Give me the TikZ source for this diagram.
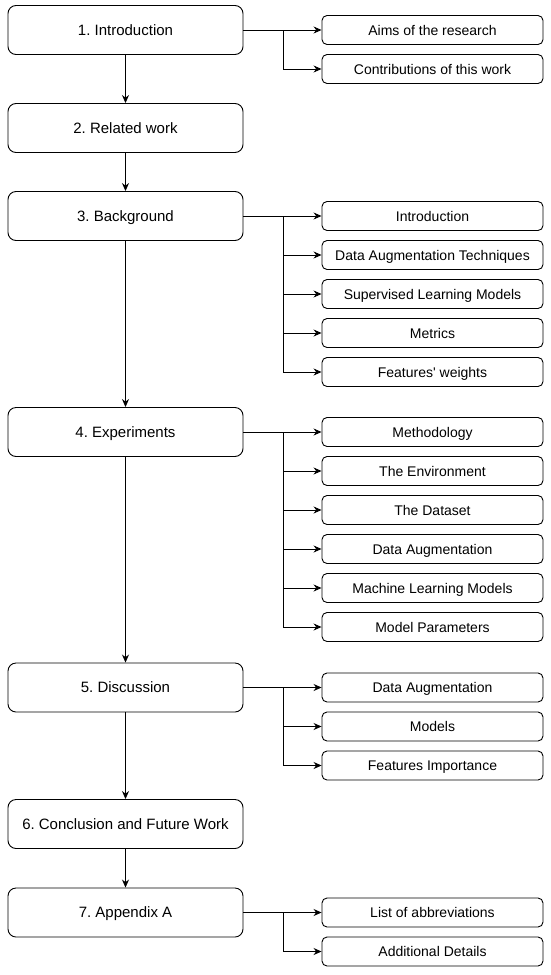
\documentclass[tikz,border=0pt]{standalone}
\usepackage{fontspec}
\setmainfont{Liberation Sans}
\usetikzlibrary{arrows.meta}
\begin{document}
\frenchspacing
\begin{tikzpicture}[x=1pt,y=-1pt,
  mainbox/.style={draw, line width=0.9pt, rounded corners=8pt, minimum width=235pt, minimum height=49pt, inner sep=0pt, text height=11pt, text depth=0.3pt, font=\fontsize{15}{18}\selectfont},
  subbox/.style={draw, line width=0.9pt, rounded corners=5pt, minimum width=221pt, minimum height=29pt, inner sep=0pt, text height=10.5pt, text depth=0.3pt, font=\fontsize{14}{17}\selectfont},
  conn/.style={line width=0.9pt, -{Stealth[length=8pt,width=7pt]}},
  link/.style={line width=0.9pt}]
\useasboundingbox (0,0) rectangle (550,975);
% main boxes
\node[mainbox] (m1) at (125.5,30) {1. Introduction};
\node[mainbox] (m2) at (125.5,128) {2. Related work};
\node[mainbox] (m3) at (125.5,216) {3. Background};
\node[mainbox] (m4) at (125.5,432) {4. Experiments};
\node[mainbox] (m5) at (125.5,687.5) {5. Discussion};
\node[mainbox] (m6) at (125.5,824) {6. Conclusion and Future Work};
\node[mainbox] (m7) at (125.5,912.5) {7. Appendix A};
\draw[conn] (m1) -- (m2);
\draw[conn] (m2) -- (m3);
\draw[conn] (m3) -- (m4);
\draw[conn] (m4) -- (m5);
\draw[conn] (m5) -- (m6);
\draw[conn] (m6) -- (m7);
% sub boxes
\node[subbox] (s11) at (432.5,30) {Aims of the research};
\node[subbox] (s12) at (432.5,69) {Contributions of this work};
\node[subbox] (s31) at (432.5,216) {Introduction};
\node[subbox] (s32) at (432.5,255) {Data Augmentation Techniques};
\node[subbox] (s33) at (432.5,294) {Supervised Learning Models};
\node[subbox] (s34) at (432.5,333) {Metrics};
\node[subbox] (s35) at (432.5,372) {Features\textquotesingle{} weights};
\node[subbox] (s41) at (432.5,432) {Methodology};
\node[subbox] (s42) at (432.5,471) {The Environment};
\node[subbox] (s43) at (432.5,510) {The Dataset};
\node[subbox] (s44) at (432.5,549) {Data Augmentation};
\node[subbox] (s45) at (432.5,588) {Machine Learning Models};
\node[subbox] (s46) at (432.5,627) {Model Parameters};
\node[subbox] (s51) at (432.5,687.5) {Data Augmentation};
\node[subbox] (s52) at (432.5,726.5) {Models};
\node[subbox] (s53) at (432.5,765.5) {Features Importance};
\node[subbox] (s71) at (432.5,912.5) {List of abbreviations};
\node[subbox] (s72) at (432.5,951.5) {Additional Details};
% branch points
\coordinate (b1) at (283,30);
\coordinate (b3) at (283,216);
\coordinate (b4) at (283,432);
\coordinate (b5) at (283,687.5);
\coordinate (b7) at (283,912.5);
% connectors
\draw[conn] (m1.east) -- (s11.west);
\draw[conn] (b1) |- (s12.west);
\draw[conn] (m3.east) -- (s31.west);
\foreach \s in {s32,s33,s34,s35} \draw[conn] (b3) |- (\s.west);
\draw[conn] (m4.east) -- (s41.west);
\foreach \s in {s42,s43,s44,s45,s46} \draw[conn] (b4) |- (\s.west);
\draw[conn] (m5.east) -- (s51.west);
\foreach \s in {s52,s53} \draw[conn] (b5) |- (\s.west);
\draw[conn] (m7.east) -- (s71.west);
\draw[conn] (b7) |- (s72.west);
\end{tikzpicture}
\end{document}
